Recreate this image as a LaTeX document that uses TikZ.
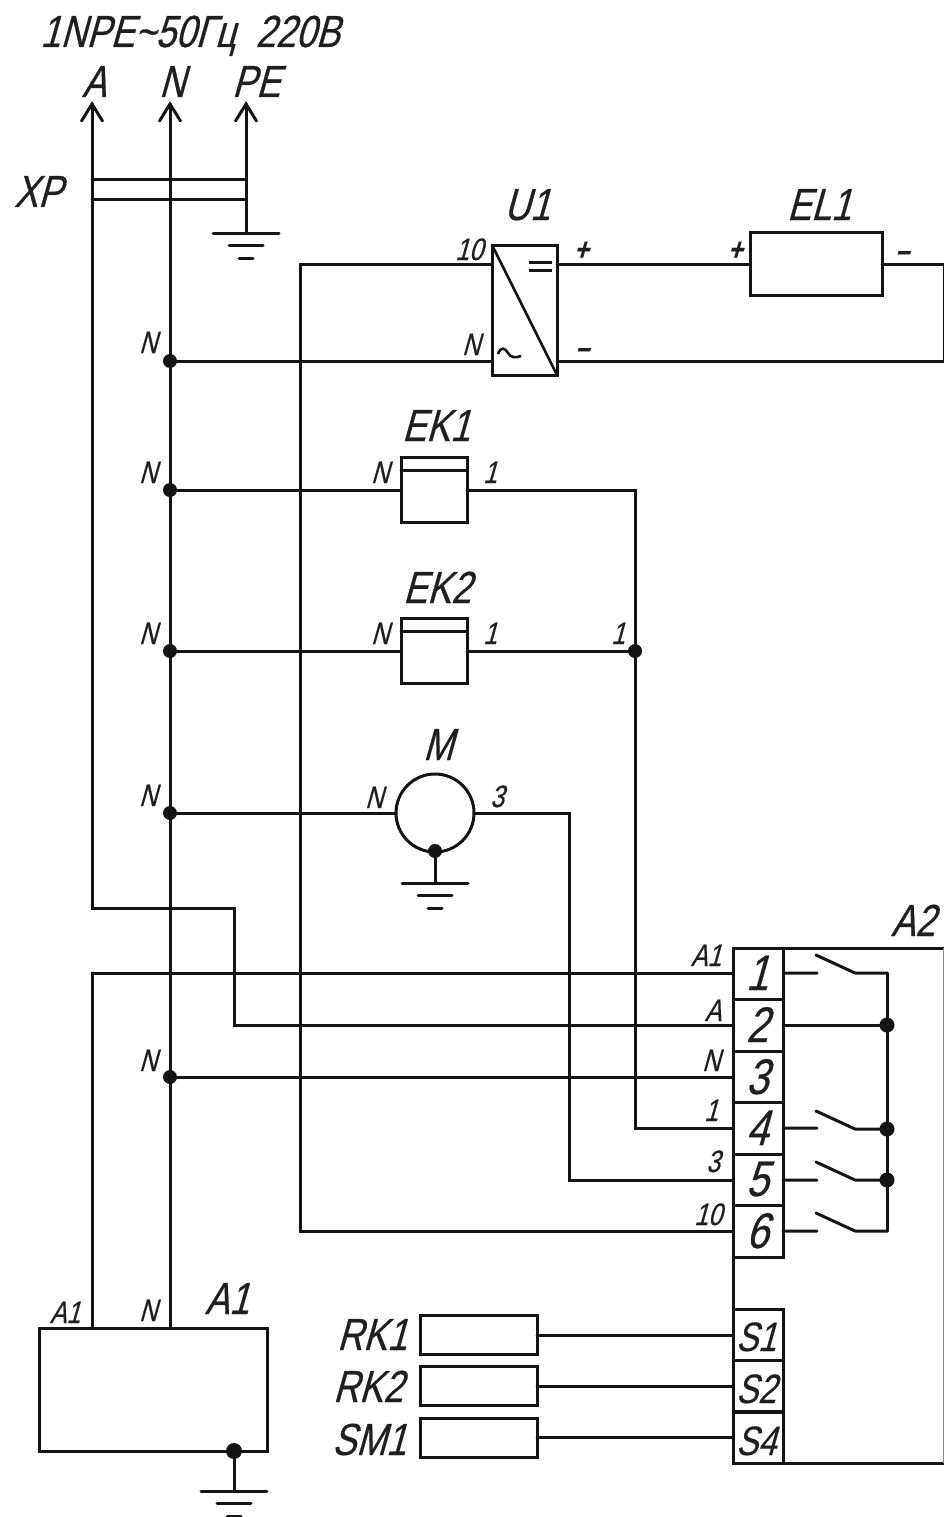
\documentclass[tikz,border=0pt]{standalone}
\usepackage{fontspec}
\setmainfont[FakeStretch=0.8,FakeSlant=0.28,FakeBold=0.5]{Liberation Sans}
\tikzset{
  wire/.style={line width=3pt,line cap=round,line join=miter,black!92},
  box/.style={draw=black!92,line width=3pt,rectangle,inner sep=0pt,outer sep=0pt,fill=white},
  dotj/.style={circle,fill=black!92,inner sep=0pt,minimum size=14pt,outer sep=0pt},
  lbl/.style={inner sep=0pt,outer sep=0pt,anchor=base,text=black!88},
  sm/.style={lbl,font=\fontsize{31}{31}\selectfont},
  bg/.style={lbl,font=\fontsize{45}{45}\selectfont},
  md/.style={lbl,font=\fontsize{50}{50}\selectfont},
  sn/.style={lbl,font=\fontsize{41}{41}\selectfont}
}
\newcommand{\gnd}[1]{%
  \draw[wire] ([xshift=-33pt]#1) -- ([xshift=33pt]#1);
  \draw[wire] ([xshift=-17pt,yshift=-12.5pt]#1) -- ([xshift=17pt,yshift=-12.5pt]#1);
  \draw[wire] ([xshift=-7pt,yshift=-25pt]#1) -- ([xshift=7pt,yshift=-25pt]#1);}
\newcommand{\chev}[1]{\draw[wire] ([xshift=-10.5pt,yshift=-17pt]#1) -- (#1) -- ([xshift=10.5pt,yshift=-17pt]#1);}
\newcommand{\blade}[2]{\draw[wire] (#1) -- ++(34,0) (#2) ++(-32,0) -- ++(-39,-18) (#2) ++(-32,0) -- (#2);}
\begin{document}
\begin{tikzpicture}[x=1pt,y=-1pt]
\useasboundingbox (0,0) rectangle (944,1517);
\fill[white] (0,0) rectangle (944,1517);

% coordinates
\coordinate (ta) at (92,104);
\coordinate (tn) at (170,104);
\coordinate (tp) at (246,104);
\coordinate (gp) at (246,233);
\coordinate (xpa1) at (92,180);
\coordinate (xpa2) at (92,200);
\coordinate (xpp1) at (246,180);
\coordinate (xpp2) at (246,200);
\coordinate (u1a) at (492,264);
\coordinate (u1b) at (492,361);
\coordinate (u1c) at (557,264);
\coordinate (u1d) at (557,361);
\coordinate (el1a) at (750,264);
\coordinate (el1b) at (882,264);
\coordinate (re1) at (944,264);
\coordinate (re2) at (944,361);
\coordinate (v10a) at (300,264);
\coordinate (v10b) at (300,1231);
\coordinate (a1) at (92,908);
\coordinate (a2) at (234,908);
\coordinate (a3) at (234,1025);
\coordinate (b1) at (92,973);
\coordinate (t1) at (733,973);
\coordinate (t2) at (733,1025);
\coordinate (t3) at (733,1077);
\coordinate (t4) at (733,1128);
\coordinate (t5) at (733,1180);
\coordinate (t6) at (733,1231);
\coordinate (c4) at (635,1128);
\coordinate (c5) at (569,1180);
\coordinate (m3) at (569,813);
\coordinate (ek1c) at (635,490);
\coordinate (a1t1) at (92,1328);
\coordinate (a1t2) at (170,1328);
\coordinate (gm) at (435,883);
\coordinate (ga) at (234,1491);
\coordinate (bus1) at (887,973);
\coordinate (bus6) at (887,1231);
\coordinate (o1) at (783,973);
\coordinate (o2) at (783,1025);
\coordinate (o4) at (783,1128);
\coordinate (o5) at (783,1180);
\coordinate (o6) at (783,1231);

% boxes
\node[box,minimum width=65pt,minimum height=130pt] (u1) at (524.5,310) {};
\node[box,minimum width=132pt,minimum height=63pt] (el1) at (816,264) {};
\node[box,minimum width=66pt,minimum height=65pt] (ek1) at (434,490) {};
\node[box,minimum width=66pt,minimum height=65pt] (ek2) at (434,651) {};
\node[draw=black!92,line width=3pt,circle,minimum size=78pt,inner sep=0pt,outer sep=0pt] (m) at (435,813) {};
\node[box,minimum width=228pt,minimum height=123pt] (a1box) at (153,1389.5) {};
\node[box,minimum width=211pt,minimum height=515pt,draw=none] (a2box) at (838.5,1205.5) {};
\draw[wire] (944,948) -- (733,948) -- (733,1463) -- (944,1463);
\draw[line width=1.6pt,black!45] (943.5,948) -- (943.5,1463);
\node[box,minimum width=50pt,minimum height=51pt] (c1) at (758,973.5) {};
\node[box,minimum width=50pt,minimum height=52pt] (c2) at (758,1025) {};
\node[box,minimum width=50pt,minimum height=51pt] (c3) at (758,1076.5) {};
\node[box,minimum width=50pt,minimum height=52pt] (c4b) at (758,1128) {};
\node[box,minimum width=50pt,minimum height=51pt] (c5b) at (758,1179.5) {};
\node[box,minimum width=50pt,minimum height=52pt] (c6b) at (758,1231) {};
\node[box,minimum width=50pt,minimum height=51pt] (s1) at (758,1335) {};
\node[box,minimum width=50pt,minimum height=51pt] (s2) at (758,1386) {};
\node[box,minimum width=50pt,minimum height=51pt] (s4) at (758,1437.5) {};
\node[box,minimum width=117pt,minimum height=39pt] (rk1) at (478.5,1335) {};
\node[box,minimum width=117pt,minimum height=39pt] (rk2) at (478.5,1386) {};
\node[box,minimum width=117pt,minimum height=39pt] (sm1) at (478.5,1437.5) {};

% junctions
\node[dotj] (n1) at (170,361) {};
\node[dotj] (n2) at (170,490) {};
\node[dotj] (n3) at (170,651) {};
\node[dotj] (n4) at (170,813) {};
\node[dotj] (n5) at (170,1077) {};
\node[dotj] (j1) at (635,651) {};
\node[dotj] (dm) at (435,851) {};
\node[dotj,minimum size=16pt] (da) at (234,1451) {};
\node[dotj,minimum size=15pt] (b2) at (887,1025) {};
\node[dotj,minimum size=15pt] (b4) at (887,1129) {};
\node[dotj,minimum size=15pt] (b5) at (887,1180) {};

% mains
\draw[wire] (ta) -- (a1) -- (a2) -- (a3) -- (t2);
\draw[wire] (tn) -- (n1.center) -- (n2.center) -- (n3.center) -- (n4.center) -- (n5.center) -- (a1t2);
\draw[wire] (tp) -- (gp);
\chev{ta} \chev{tn} \chev{tp}
\draw[wire] (xpa1) -- (xpp1);
\draw[wire] (xpa2) -- (xpp2);
\gnd{gp}
\draw[wire] (a1t1) -- (b1) -- (t1);
\draw[wire] (n5.center) -- (t3);

% U1, EL1
\draw[wire] (t6) -- (v10b) -- (v10a) -- (u1a);
\draw[wire] (n1.center) -- (u1b);
\draw[wire] (u1c) -- (el1a);
\draw[wire] (el1b) -- (re1) -- (re2) -- (u1d);
\draw[line width=2.6pt,black!92] (u1.north west) -- (u1.south east);
\draw[line width=3pt,black!92] (529,262) -- (552,262) (529,270) -- (552,270);
\draw[line width=2.6pt,black!92] (498,354) .. controls (501,346) and (505,348) .. (508,353) .. controls (511,358) and (516,358) .. (521,356);

% EK
\draw[wire] (n2.center) -- (ek1.west);
\draw[wire] (n3.center) -- (ek2.west);
\draw[wire] (ek1.east) -- (ek1c) -- (j1.center) -- (c4) -- (t4);
\draw[wire] (ek2.east) -- (j1.center);
\draw[wire] (ek1.north west) ++(0,12.5) -- ++(66,0);
\draw[wire] (ek2.north west) ++(0,13) -- ++(66,0);

% motor
\draw[wire] (n4.center) -- (m.west);
\draw[wire] (m.east) -- (m3) -- (c5) -- (t5);
\draw[wire] (dm.center) -- (gm);
\gnd{gm}

% A1
\draw[wire] (da.center) -- (ga);
\gnd{ga}

% sensors
\draw[wire] (rk1.east) -- (s1.west);
\draw[wire] (rk2.east) -- (s2.west);
\draw[wire] (sm1.east) -- (s4.west);

% contacts
\blade{o1}{bus1}
\blade{o4}{b4.center}
\blade{o5}{b5.center}
\blade{o6}{bus6}
\draw[wire] (bus1) -- (b2.center) -- (b4.center) -- (b5.center) -- (bus6);
\draw[wire] (o2) -- (b2.center);

% labels
\node[bg] (lt) at (190,47) {1NPE\char"7E\relax 50Гц\ \ 220В};
\node[bg] (la) at (94,97) {A};
\node[bg] (ln) at (172,97) {N};
\node[bg] (lpe) at (256,97) {PE};
\node[bg] (lxp) at (38,207) {XP};
\node[bg] (lu1) at (527,220) {U1};
\node[bg] (lel1) at (819,220) {EL1};
\node[bg] (lek1) at (436,441) {EK1};
\node[bg] (lek2) at (437,603) {EK2};
\node[bg] (lm) at (438,760) {M};
\node[bg] (la2) at (913,936) {A2};
\node[bg] (la1big) at (227,1314) {A1};
\node[sm] (ln1) at (148,353) {N};
\node[sm] (ln2) at (148,483) {N};
\node[sm] (ln3) at (148,644) {N};
\node[sm] (ln4) at (148,806) {N};
\node[sm] (ln5) at (148,1071) {N};
\node[sm] (l10) at (469,260) {10};
\node[sm] (lun) at (471,355) {N};
\node[sm] (lup) at (581,260) {\textbf{+}};
\node[sm] (lum) at (582,358) {\textbf{–}};
\node[sm] (lep) at (735,260) {\textbf{+}};
\node[sm] (lem) at (902,261) {\textbf{–}};
\node[sm] (lk1n) at (380,483) {N};
\node[sm] (lk11) at (490,483) {1};
\node[sm] (lk2n) at (380,644) {N};
\node[sm] (lk21) at (490,644) {1};
\node[sm] (lj1) at (618,644) {1};
\node[sm] (lmn) at (374,808) {N};
\node[sm] (lm3) at (497,807) {3};
\node[sm] (lt1) at (706,966) {A1};
\node[sm] (lt2) at (713,1021) {A};
\node[sm] (lt3) at (711,1071) {N};
\node[sm] (lt4) at (711,1121) {1};
\node[sm] (lt5) at (713,1172) {3};
\node[sm] (lt6) at (708,1225) {10};
\node[sm] (la11) at (65,1323) {A1};
\node[sm] (la1n) at (148,1321) {N};
\node[md] (d1) at (757,990) {1};
\node[md] (d2) at (757,1042) {2};
\node[md] (d3) at (757,1094) {3};
\node[md] (d4) at (757,1145) {4};
\node[md] (d5) at (757,1196) {5};
\node[md] (d6) at (757,1248) {6};
\node[sn] (ls1) at (756,1351) {S1};
\node[sn] (ls2) at (756,1403) {S2};
\node[sn] (ls4) at (756,1455) {S4};
\node[bg] (lrk1) at (372,1350) {RK1};
\node[bg] (lrk2) at (368,1402) {RK2};
\node[bg] (lsm1) at (369,1455) {SM1};
\end{tikzpicture}
\end{document}
